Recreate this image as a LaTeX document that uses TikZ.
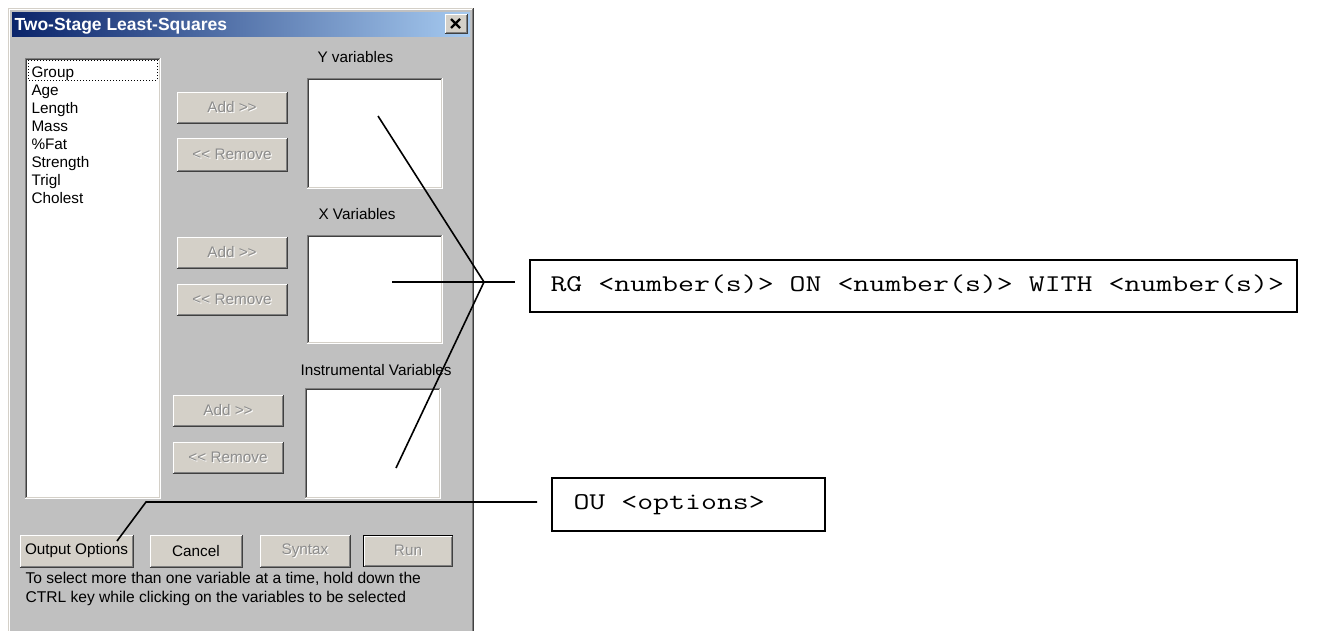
\documentclass[tikz,border=0pt]{standalone}
\usepackage{fontspec}
\usepackage{graphicx}
\setmainfont{Liberation Sans}

\definecolor{winbg}{HTML}{C0C0C0}
\definecolor{face}{HTML}{D4D0C8}
\definecolor{shadow}{HTML}{808080}
\definecolor{dkshadow}{HTML}{404040}
\definecolor{titleA}{HTML}{0A246A}
\definecolor{titleB}{HTML}{A6CAF0}
\definecolor{graytext}{HTML}{8C8C8C}

\newcommand\uifont{\fontsize{15.3}{18}\selectfont}
% typewriter command text, widened like a wide courier face
\newcommand\cmdtxt[1]{\scalebox{1.29}[1]{\ttfamily\fontsize{24}{28}\selectfont #1}}
% disabled caption: grey text over a white copy shifted down-right
\newcommand\etched[1]{\leavevmode\rlap{\kern1pt\raisebox{-1pt}{\color{white}#1}}{\color{graytext}#1}}

% node placed by its pixel corners: style, name, x1, y1, x2, y2, text
\newcommand\uibox[7]{%
  \node[#1, minimum width={#5-#3}, minimum height={#6-#4}] (#2) at ({(#3+#5)/2},{(#4+#6)/2}) {#7};}

% raised 3D edge of a push button
\newcommand\raised[1]{%
  \draw[white] ([shift={(0.5pt,1pt)}]#1.south west) |- ([shift={(-1pt,-0.5pt)}]#1.north east);
  \draw[dkshadow] ([shift={(0pt,0.5pt)}]#1.south west) -| ([shift={(-0.5pt,0pt)}]#1.north east);
  \draw[shadow] ([shift={(1pt,1.5pt)}]#1.south west) -| ([shift={(-1.5pt,-1pt)}]#1.north east);}

% sunken 3D edge of a list or edit field
\newcommand\sunken[1]{%
  \draw[shadow] ([shift={(0.5pt,0pt)}]#1.south west) |- ([shift={(0pt,-0.5pt)}]#1.north east);
  \draw[dkshadow] ([shift={(1.5pt,1pt)}]#1.south west) |- ([shift={(-1pt,-1.5pt)}]#1.north east);
  \draw[white] ([shift={(0pt,0.5pt)}]#1.south west) -| ([shift={(-0.5pt,0pt)}]#1.north east);
  \draw[face] ([shift={(1pt,1.5pt)}]#1.south west) -| ([shift={(-1.5pt,-1pt)}]#1.north east);}

\tikzset{
  btn/.style={fill=face, inner sep=0pt, font=\uifont},
  field/.style={fill=white, inner sep=0pt},
  uitext/.style={font=\uifont, inner sep=0pt, anchor=base west},
  cmdbox/.style={draw=black, line width=1.5pt, fill=white, inner sep=0pt},
  cmdtext/.style={inner sep=0pt, anchor=base west},
  leader/.style={draw=black, line width=1.6pt},
}

\begin{document}
\begin{tikzpicture}[x=1pt, y=-1pt, line width=1pt]
\useasboundingbox (0,0) rectangle (1330,630);
\fill[white] (0,0) rectangle (1330,630);

% dialog window frame
\fill[winbg] (8,8) rectangle (474,640);
\draw[face] (8.5,640) -- (8.5,8.5) -- (474,8.5);
\draw[white] (9.5,640) -- (9.5,9.5) -- (473,9.5);
\draw[dkshadow] (473.5,8) -- (473.5,640);
\draw[shadow] (472.5,9) -- (472.5,640);

% title bar
\shade[left color=titleA, right color=titleB] (12,12) rectangle (470,36);
\node[anchor=base west, inner sep=0pt, text=white, font=\bfseries\fontsize{17.5}{20}\selectfont] (title) at (14,30) {Two-Stage Least-Squares};
\uibox{btn}{close}{445}{14}{467}{33}{}
\raised{close}
\draw[black, line width=2.2pt] (451,19) -- (460,28) (460,19) -- (451,28);

% source variable list
\uibox{field}{list}{25}{58}{160}{498}{}
\sunken{list}
\draw[black, dotted] (28,60) rectangle (157,80);
\node[uitext] (v1) at (31,77) {Group};
\node[uitext] (v2) at (31,95) {Age};
\node[uitext] (v3) at (31,113) {Length};
\node[uitext] (v4) at (31,131) {Mass};
\node[uitext] (v5) at (31,149) {\%Fat};
\node[uitext] (v6) at (31,167) {Strength};
\node[uitext] (v7) at (31,185) {Trigl};
\node[uitext] (v8) at (31,203) {Cholest};

% Y variables
\node[uitext] (ylab) at (317,62) {Y variables};
\uibox{btn}{addY}{177}{92}{287}{123}{\etched{Add >{}>}}
\raised{addY}
\uibox{btn}{remY}{177}{138}{287}{171}{\etched{<{}< Remove}}
\raised{remY}
\uibox{field}{yfield}{307}{78}{442}{188}{}
\sunken{yfield}

% X variables
\node[uitext] (xlab) at (318,219) {X Variables};
\uibox{btn}{addX}{177}{237}{287}{268}{\etched{Add >{}>}}
\raised{addX}
\uibox{btn}{remX}{177}{284}{287}{315}{\etched{<{}< Remove}}
\raised{remX}
\uibox{field}{xfield}{307}{235}{442}{343}{}
\sunken{xfield}

% instrumental variables
\node[uitext] (ilab) at (300,375) {Instrumental Variables};
\uibox{btn}{addI}{173}{395}{283}{426}{\etched{Add >{}>}}
\raised{addI}
\uibox{btn}{remI}{173}{442}{283}{473}{\etched{<{}< Remove}}
\raised{remI}
\uibox{field}{ifield}{305}{388}{440}{498}{}
\sunken{ifield}

% bottom row of buttons
\uibox{btn}{outopt}{20}{535}{133}{567}{Output Options}
\raised{outopt}
\uibox{btn}{cancel}{150}{535}{242}{567}{Cancel}
\raised{cancel}
\uibox{btn}{syntax}{260}{535}{350}{567}{\etched{Syntax}}
\raised{syntax}
\draw[black] (363.5,535.5) rectangle (452.5,566.5);
\uibox{btn}{run}{364}{536}{452}{566}{\etched{Run}}
\raised{run}

% hint
\node[uitext, font=\fontsize{15.6}{19}\selectfont] (hint1) at (25,583) {To select more than one variable at a time, hold down the};
\node[uitext, font=\fontsize{15.6}{19}\selectfont] (hint2) at (25,602) {CTRL key while clicking on the variables to be selected};

% command syntax boxes
\uibox{cmdbox}{rg}{530}{260}{1297}{312}{}
\node[cmdtext] (rgtext) at (550,291) {\cmdtxt{RG <number(s)> ON <number(s)> WITH <number(s)>}};
\uibox{cmdbox}{ou}{552}{478}{825}{531}{}
\node[cmdtext] (outext) at (573,509) {\cmdtxt{OU <options>}};

% leader lines
\coordinate (ypt) at (378,116);
\coordinate (xpt) at (392,282);
\coordinate (ipt) at (396,468);
\coordinate (join) at (484,282);
\coordinate (xend) at (515,282);
\coordinate (opt) at (117,541);
\coordinate (bend) at (146,502);
\coordinate (oend) at (537,502);
\draw[leader] (ypt) -- (join);
\draw[leader] (ipt) -- (join);
\draw[leader] (xpt) -- (xend);
\draw[leader] (opt) -- (bend) -- (oend);
\end{tikzpicture}
\end{document}
